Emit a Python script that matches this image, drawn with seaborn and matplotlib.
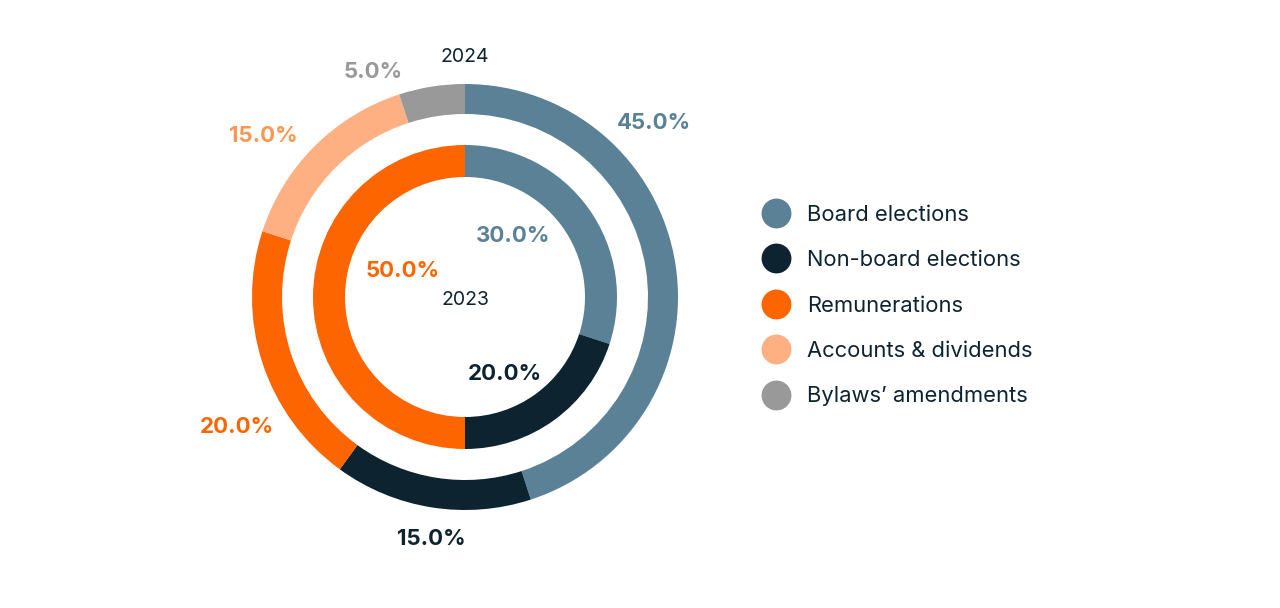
import numpy as np
import matplotlib
matplotlib.use("Agg")
import matplotlib.pyplot as plt
import seaborn as sns
from matplotlib.lines import Line2D

categories = ["Board elections", "Non-board elections", "Remunerations",
              "Accounts & dividends", "Bylaws\u2019 amendments"]
values_2024 = [45.0, 15.0, 20.0, 15.0, 5.0]
cats_2023 = ["Board elections", "Non-board elections", "Remunerations"]
values_2023 = [30.0, 20.0, 50.0]
colors = ["#5a8196", "#0d2430", "#fc6500", "#ffb083", "#999999"]
label_colors = ["#5a8196", "#0d2430", "#fc6500", "#fd9651", "#999999"]

sns.set_theme(style="white")
plt.rcParams['font.family'] = ['Inter', 'DejaVu Sans']

W, H = 1280, 608
fig = plt.figure(figsize=(W / 100, H / 100), dpi=100)
cx, cy, R, half = 465, 297, 213, 290
ax = fig.add_axes([(cx - half) / W, (H - cy - half) / H, 2 * half / W, 2 * half / H])

pal = dict(zip(categories, colors))
lpal = dict(zip(categories, label_colors))
ax.pie(values_2024, colors=[pal[c] for c in categories], startangle=90, counterclock=False,
       radius=1.0, wedgeprops=dict(width=30 / R, edgecolor="none"))
ax.pie(values_2023, colors=[pal[c] for c in cats_2023], startangle=90, counterclock=False,
       radius=152 / R, wedgeprops=dict(width=32 / R, edgecolor="none"))
ax.set_xlim(-half / R, half / R)
ax.set_ylim(-half / R, half / R)
ax.set_aspect("equal")
ax.axis("off")

# label layout (angle clockwise from top, radius in px), plus small vertical nudge in px
dy = -3 / R
outer_lab = [(47, 259), (188, 241), (241, 261), (309, 260), (338, 246)]
inner_lab = [(37, 80), (152, 84), (295, 69)]
for v, c, (a, r) in zip(values_2024, categories, outer_lab):
    t = np.deg2rad(a)
    ax.text(np.sin(t) * r / R, np.cos(t) * r / R + dy, f"{v:.1f}%", ha="center", va="center",
            fontsize=16, fontweight="bold", color=lpal[c])
for v, c, (a, r) in zip(values_2023, cats_2023, inner_lab):
    t = np.deg2rad(a)
    ax.text(np.sin(t) * r / R, np.cos(t) * r / R + dy, f"{v:.1f}%", ha="center", va="center",
            fontsize=16, fontweight="bold", color=lpal[c])

ax.text(0, 240 / R, "2024", ha="center", va="center", fontsize=14, color="#0d2430")
ax.text(0, -3 / R, "2023", ha="center", va="center", fontsize=14, color="#0d2430")

handles = [Line2D([], [], marker="o", linestyle="none", markersize=21.5,
                  markerfacecolor=col, markeredgecolor="none") for col in colors]
leg = fig.legend(handles, categories, loc="center left", bbox_to_anchor=(765 / W, 1 - 305.5 / H),
                 frameon=False, fontsize=15.8, labelspacing=1.16, handlelength=1.0,
                 handletextpad=0.9, borderaxespad=0, borderpad=0)
for t in leg.get_texts():
    t.set_color("#0d2430")

fig.savefig("out.png", dpi=100, facecolor="white")
